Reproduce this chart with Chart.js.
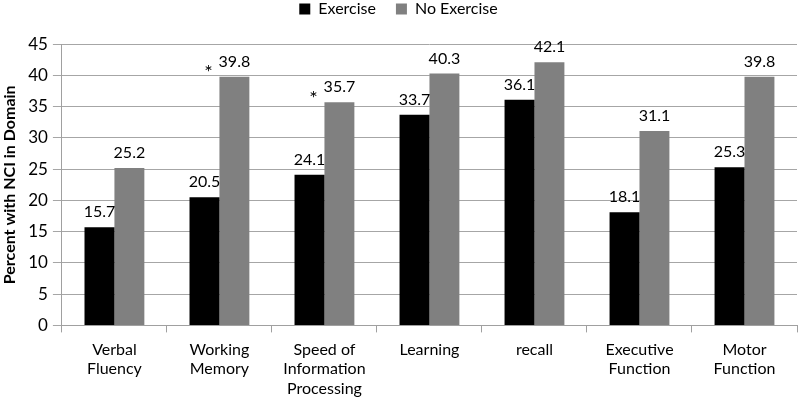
<!DOCTYPE html>
<html>
<head>
<meta charset="utf-8">
<script src="https://cdn.jsdelivr.net/npm/chart.js@4.4.1/dist/chart.umd.min.js"></script>
<style>
  html, body { margin: 0; padding: 0; background: #fff; }
  #wrap { width: 800px; height: 406px; }
</style>
</head>
<body>
<div id="wrap"><canvas id="nciChart"></canvas></div>
<script>
const domains = [
    'Verbal\nFluency', 'Working\nMemory', 'Speed of\nInformation\nProcessing',
    'Learning', 'recall', 'Executive\nFunction', 'Motor\nFunction'
];
const exercise = [15.7, 20.5, 24.1, 33.7, 36.1, 18.1, 25.3];
const noExercise = [25.2, 39.8, 35.7, 40.3, 42.1, 31.1, 39.8];
// significant difference marked with * on the No Exercise bar
const starred = [false, true, true, false, false, false, false];
const yTicks = [0, 5, 10, 15, 20, 25, 30, 35, 40, 45];

const FONT = 'Lato, "Open Sans", sans-serif';
const GRAY = '#808080';

// value labels above bars + asterisks
const barLabels = {
    id: 'barLabels',
    afterDatasetsDraw(chart) {
        const ctx = chart.ctx;
        ctx.save();
        ctx.fillStyle = '#000';
        ctx.textAlign = 'center';
        ctx.textBaseline = 'bottom';
        chart.data.datasets.forEach((ds, i) => {
            const meta = chart.getDatasetMeta(i);
            meta.data.forEach((bar, j) => {
                ctx.font = '16px ' + FONT;
                ctx.fillText(ds.data[j].toFixed(1), bar.x, bar.y - 7);
                if (i === 1 && starred[j]) {
                    ctx.font = '20px ' + FONT;
                    ctx.fillText('*', bar.x - bar.width / 2 - 11, bar.y + 6);
                }
            });
        });
        ctx.restore();
    }
};

new Chart(document.getElementById('nciChart'), {
    type: 'bar',
    data: {
        labels: domains.map(d => d.split('\n')),
        datasets: [{
            label: 'Exercise',
            data: exercise,
            backgroundColor: '#000000',
            categoryPercentage: 0.57,
            barPercentage: 1
        }, {
            label: 'No Exercise',
            data: noExercise,
            backgroundColor: GRAY,
            categoryPercentage: 0.57,
            barPercentage: 1
        }]
    },
    options: {
        responsive: true,
        maintainAspectRatio: false,
        animation: false,
        layout: { padding: { top: -19, right: 3, bottom: 0, left: 0 } },
        plugins: {
            tooltip: { enabled: false },
            legend: {
                position: 'top',
                labels: {
                    color: '#000',
                    font: { family: FONT, size: 16 },
                    boxWidth: 11,
                    boxHeight: 11,
                    padding: 20
                }
            },
            // empty spacer between legend and plot
            title: {
                display: true,
                text: ' ',
                position: 'top',
                weight: 0,
                font: { size: 1 },
                padding: { top: 0, bottom: 16 }
            }
        },
        scales: {
            x: {
                grid: { drawOnChartArea: false, tickLength: 7, color: '#a0a0a0' },
                border: { color: '#a0a0a0' },
                ticks: {
                    color: '#000',
                    font: { family: FONT, size: 16, lineHeight: 1.2 },
                    padding: 8,
                    maxRotation: 0,
                    autoSkip: false
                }
            },
            y: {
                min: 0,
                max: 45,
                afterBuildTicks: axis => { axis.ticks = yTicks.map(v => ({ value: v })); },
                grid: { color: '#a6a6a6', tickLength: 9 },
                border: { color: '#a0a0a0' },
                ticks: {
                    color: '#000',
                    font: { family: FONT, size: 17 },
                    padding: 5
                },
                title: {
                    display: true,
                    text: 'Percent with NCI in Domain',
                    color: '#000',
                    font: { family: FONT, size: 16, weight: 'bold' },
                    padding: { top: 0, bottom: 4 }
                }
            }
        }
    },
    plugins: [barLabels]
});
</script>
</body>
</html>
